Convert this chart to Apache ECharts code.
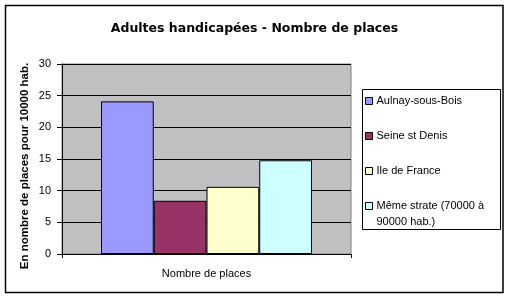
<!DOCTYPE html>
<html>
<head>
<meta charset="utf-8">
<script src="https://cdn.jsdelivr.net/npm/echarts@6/dist/echarts.min.js"></script>
<style>
html,body{margin:0;padding:0;background:#fff;}
#c{width:509px;height:298px;}
</style>
</head>
<body>
<div id="c"></div>
<script>
var titleText = 'Adultes handicapées - Nombre de places';
var categories = ['Nombre de places'];
var seriesNames = ['Aulnay-sous-Bois', 'Seine st Denis', 'Ile de France', 'Même strate (70000 à\n90000 hab.)'];
var seriesValues = [24.1, 8.4, 10.6, 14.8];
var seriesColors = ['#9999FF', '#993366', '#FFFFCC', '#CCFFFF'];
var yTicks = [0, 5, 10, 15, 20, 25, 30];
var yAxisName = 'En nombre de places pour 10000 hab.';

var FONT = 'Liberation Sans, Arial, sans-serif';
var chart = echarts.init(document.getElementById('c'), null, {renderer: 'canvas'});
var series = seriesNames.map(function (n, i) {
  return {
    name: n,
    type: 'bar',
    data: [seriesValues[i]],
    barGap: '0%',
    barCategoryGap: '27%',
    itemStyle: {color: seriesColors[i], borderColor: '#000', borderWidth: 1},
    emphasis: {disabled: true},
    animation: false
  };
});
var legendBase = {
  orient: 'vertical',
  left: 362,
  itemWidth: 7, itemHeight: 7,
  icon: 'rect',
  padding: [0, 0, 0, 3],
  selectedMode: false
};
chart.setOption({
  animation: false,
  textStyle: {fontFamily: FONT},
  title: {
    text: titleText,
    left: 'center',
    top: 17,
    textStyle: {fontSize: 12.5, fontWeight: 'bold', color: '#000', fontFamily: 'DejaVu Sans, sans-serif'}
  },
  grid: {
    left: 62, top: 64, right: 158, bottom: 44,
    show: true, backgroundColor: '#C0C0C0', borderColor: '#808080', borderWidth: 1
  },
  legend: [
    Object.assign({}, legendBase, {
      top: 94,
      itemGap: 21,
      data: seriesNames.slice(0, 3).map(function (n) {
        return {name: n, itemStyle: {borderColor: '#000', borderWidth: 1}};
      }),
      textStyle: {fontSize: 11, color: '#000', lineHeight: 14, padding: [0, 0, 0, -1]}
    }),
    Object.assign({}, legendBase, {
      top: 182,
      data: seriesNames.slice(3).map(function (n) {
        return {name: n, itemStyle: {borderColor: '#000', borderWidth: 1}};
      }),
      formatter: function (name) { return ' \n' + name; },
      textStyle: {fontSize: 11, color: '#000', lineHeight: 16, padding: [0, 0, 0, -1]}
    })
  ],
  xAxis: {
    type: 'category',
    data: categories,
    axisLine: {lineStyle: {color: '#000'}},
    axisTick: {show: true, length: 4, lineStyle: {color: '#000'}},
    axisLabel: {fontSize: 11, color: '#000', margin: 14}
  },
  yAxis: {
    type: 'value',
    min: yTicks[0], max: yTicks[yTicks.length - 1], interval: 5,
    name: yAxisName,
    nameLocation: 'middle',
    nameGap: 31,
    nameMoveOverlap: false,
    nameTextStyle: {fontSize: 11.5, fontWeight: 'bold', color: '#000', padding: [0, 14, 0, 0]},
    axisLine: {show: true, lineStyle: {color: '#000'}},
    axisTick: {show: true, length: 5, lineStyle: {color: '#000'}},
    axisLabel: {fontSize: 11, color: '#000', margin: 11},
    splitLine: {show: true, lineStyle: {color: '#000', width: 1}}
  },
  graphic: [
    {type: 'rect', shape: {x: 5.5, y: 5.5, width: 497.5, height: 287}, style: {fill: 'none', stroke: '#000', lineWidth: 1.5}, silent: true},
    {type: 'rect', shape: {x: 362.5, y: 89.5, width: 138, height: 140}, style: {fill: 'none', stroke: '#000', lineWidth: 1}, silent: true, z: 10}
  ],
  series: series
});
</script>
</body>
</html>
